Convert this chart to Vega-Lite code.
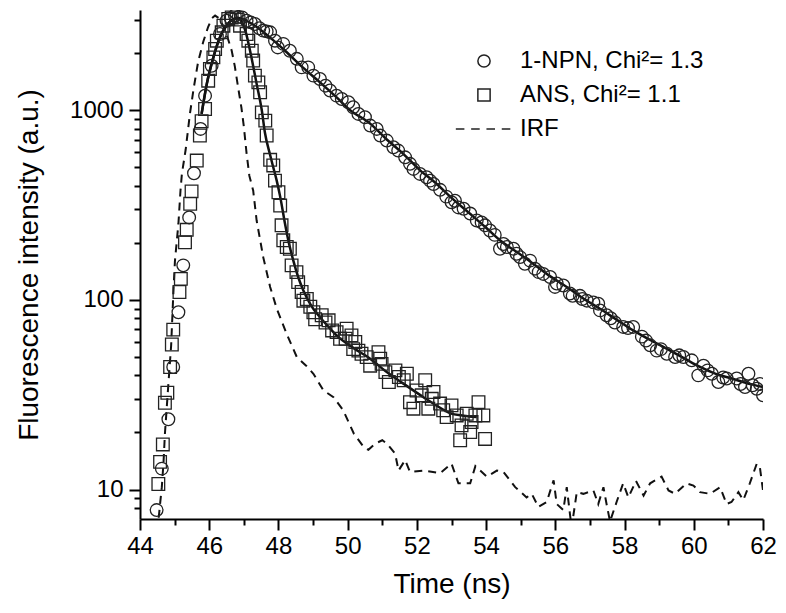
{
  "$schema": "https://vega.github.io/schema/vega-lite/v6.json",
  "autosize": {"type": "none"},
  "width": 623,
  "height": 509,
  "padding": {"left": 140, "top": 10, "right": 23, "bottom": 94},
  "background": "white",
  "config": {"view": {"stroke": null}, "font": "Liberation Sans"},
  "datasets": {
    "irf": [
      {"t": 44.5, "v": 6.0}, {"t": 44.58, "v": 8.4}, {"t": 44.63, "v": 10.3}, {"t": 44.68, "v": 14}, {"t": 44.72, "v": 19.7},
      {"t": 44.82, "v": 36}, {"t": 44.9, "v": 57.6}, {"t": 44.96, "v": 105}, {"t": 45.01, "v": 161}, {"t": 45.06, "v": 201},
      {"t": 45.11, "v": 252}, {"t": 45.17, "v": 377}, {"t": 45.21, "v": 461}, {"t": 45.32, "v": 620}, {"t": 45.44, "v": 950},
      {"t": 45.55, "v": 1300}, {"t": 45.68, "v": 1800}, {"t": 45.83, "v": 2300}, {"t": 45.97, "v": 2750}, {"t": 46.08, "v": 3050},
      {"t": 46.17, "v": 3150}, {"t": 46.28, "v": 3050}, {"t": 46.42, "v": 2750}, {"t": 46.55, "v": 2350}, {"t": 46.65, "v": 2056},
      {"t": 46.74, "v": 1700}, {"t": 46.84, "v": 1300}, {"t": 46.93, "v": 1030}, {"t": 47.0, "v": 820}, {"t": 47.08, "v": 590},
      {"t": 47.16, "v": 450}, {"t": 47.27, "v": 377}, {"t": 47.37, "v": 262}, {"t": 47.56, "v": 168}, {"t": 47.76, "v": 117},
      {"t": 47.95, "v": 90}, {"t": 48.24, "v": 66}, {"t": 48.53, "v": 50}, {"t": 48.8, "v": 45}, {"t": 49.01, "v": 40.8},
      {"t": 49.3, "v": 33.3}, {"t": 49.59, "v": 30.7}, {"t": 49.87, "v": 26.2}, {"t": 50.18, "v": 19.7}, {"t": 50.47, "v": 16.7},
      {"t": 50.6, "v": 16.2}, {"t": 50.8, "v": 17.5}, {"t": 51.0, "v": 18.2}, {"t": 51.13, "v": 17.5}, {"t": 51.37, "v": 15.5},
      {"t": 51.47, "v": 12.6}, {"t": 51.66, "v": 14.3}, {"t": 51.8, "v": 12.4}, {"t": 52.19, "v": 12.6}, {"t": 52.67, "v": 12.2},
      {"t": 53.0, "v": 13.7}, {"t": 53.2, "v": 10.8}, {"t": 53.54, "v": 10.8}, {"t": 53.69, "v": 13.3}, {"t": 54.02, "v": 11.7},
      {"t": 54.31, "v": 12.6}, {"t": 54.5, "v": 12.4}, {"t": 54.84, "v": 10.3}, {"t": 55.17, "v": 9.1}, {"t": 55.32, "v": 9.5},
      {"t": 55.51, "v": 8.1}, {"t": 55.75, "v": 8.6}, {"t": 55.95, "v": 11.2}, {"t": 56.04, "v": 8.4}, {"t": 56.23, "v": 7.8},
      {"t": 56.33, "v": 10.3}, {"t": 56.42, "v": 7.5}, {"t": 56.47, "v": 6.3}, {"t": 56.62, "v": 9.7}, {"t": 56.81, "v": 9.5},
      {"t": 57.1, "v": 9.9}, {"t": 57.24, "v": 8.4}, {"t": 57.39, "v": 10.3}, {"t": 57.48, "v": 8.4}, {"t": 57.58, "v": 6.8},
      {"t": 57.77, "v": 8.6}, {"t": 57.96, "v": 10.8}, {"t": 58.11, "v": 9.1}, {"t": 58.33, "v": 11.1}, {"t": 58.55, "v": 9.3},
      {"t": 58.74, "v": 10.8}, {"t": 59.07, "v": 11.7}, {"t": 59.27, "v": 9.9}, {"t": 59.46, "v": 9.5}, {"t": 59.79, "v": 10.8},
      {"t": 59.99, "v": 10.5}, {"t": 60.18, "v": 9.7}, {"t": 60.47, "v": 9.5}, {"t": 60.76, "v": 10.3}, {"t": 60.95, "v": 8.4},
      {"t": 61.09, "v": 8.6}, {"t": 61.29, "v": 9.7}, {"t": 61.43, "v": 8.8}, {"t": 61.62, "v": 10.8}, {"t": 61.82, "v": 13.7},
      {"t": 61.91, "v": 13.1}, {"t": 62.0, "v": 9.9}
    ],
    "fit": [
      {"s": "NPN", "t": 45.78, "v": 955}, {"s": "NPN", "t": 45.93, "v": 1375}, {"s": "NPN", "t": 46.12, "v": 1897}, {"s": "NPN", "t": 46.31, "v": 2420},
      {"s": "NPN", "t": 46.5, "v": 2790}, {"s": "NPN", "t": 46.7, "v": 3020}, {"s": "NPN", "t": 46.85, "v": 3060}, {"s": "NPN", "t": 47.0, "v": 3000},
      {"s": "NPN", "t": 47.3, "v": 2800}, {"s": "NPN", "t": 47.76, "v": 2410}, {"s": "NPN", "t": 48.2, "v": 2050}, {"s": "NPN", "t": 48.71, "v": 1675},
      {"s": "NPN", "t": 49.2, "v": 1400}, {"s": "NPN", "t": 49.69, "v": 1163}, {"s": "NPN", "t": 50.07, "v": 1000}, {"s": "NPN", "t": 50.65, "v": 849},
      {"s": "NPN", "t": 51.13, "v": 700}, {"s": "NPN", "t": 51.6, "v": 590}, {"s": "NPN", "t": 52.1, "v": 480}, {"s": "NPN", "t": 52.5, "v": 419},
      {"s": "NPN", "t": 53.0, "v": 345}, {"s": "NPN", "t": 53.5, "v": 288}, {"s": "NPN", "t": 54.0, "v": 240}, {"s": "NPN", "t": 54.4, "v": 206},
      {"s": "NPN", "t": 54.9, "v": 178}, {"s": "NPN", "t": 55.3, "v": 158}, {"s": "NPN", "t": 55.8, "v": 135}, {"s": "NPN", "t": 56.33, "v": 117},
      {"s": "NPN", "t": 56.8, "v": 102}, {"s": "NPN", "t": 57.3, "v": 89.5}, {"s": "NPN", "t": 57.8, "v": 78}, {"s": "NPN", "t": 58.25, "v": 69},
      {"s": "NPN", "t": 58.7, "v": 62}, {"s": "NPN", "t": 59.2, "v": 55.5}, {"s": "NPN", "t": 59.7, "v": 49.5}, {"s": "NPN", "t": 60.18, "v": 44.3},
      {"s": "NPN", "t": 60.6, "v": 41}, {"s": "NPN", "t": 61.1, "v": 38.5}, {"s": "NPN", "t": 61.5, "v": 36.5}, {"s": "NPN", "t": 62.0, "v": 34.7},
      {"s": "ANS", "t": 45.78, "v": 955}, {"s": "ANS", "t": 45.93, "v": 1375}, {"s": "ANS", "t": 46.12, "v": 1897}, {"s": "ANS", "t": 46.31, "v": 2420},
      {"s": "ANS", "t": 46.5, "v": 2790}, {"s": "ANS", "t": 46.7, "v": 3020}, {"s": "ANS", "t": 46.82, "v": 3060}, {"s": "ANS", "t": 46.95, "v": 2900},
      {"s": "ANS", "t": 47.05, "v": 2600}, {"s": "ANS", "t": 47.18, "v": 2056}, {"s": "ANS", "t": 47.37, "v": 1375}, {"s": "ANS", "t": 47.52, "v": 995},
      {"s": "ANS", "t": 47.61, "v": 760}, {"s": "ANS", "t": 47.76, "v": 580}, {"s": "ANS", "t": 47.85, "v": 500}, {"s": "ANS", "t": 47.95, "v": 425},
      {"s": "ANS", "t": 48.05, "v": 350}, {"s": "ANS", "t": 48.19, "v": 252}, {"s": "ANS", "t": 48.3, "v": 200}, {"s": "ANS", "t": 48.43, "v": 161},
      {"s": "ANS", "t": 48.57, "v": 132}, {"s": "ANS", "t": 48.72, "v": 112}, {"s": "ANS", "t": 48.95, "v": 93}, {"s": "ANS", "t": 49.2, "v": 81},
      {"s": "ANS", "t": 49.45, "v": 72}, {"s": "ANS", "t": 49.68, "v": 65}, {"s": "ANS", "t": 50.15, "v": 56}, {"s": "ANS", "t": 50.65, "v": 49},
      {"s": "ANS", "t": 51.1, "v": 42}, {"s": "ANS", "t": 51.61, "v": 36.2}, {"s": "ANS", "t": 52.19, "v": 30.7}, {"s": "ANS", "t": 52.6, "v": 27.5},
      {"s": "ANS", "t": 52.96, "v": 25.3}, {"s": "ANS", "t": 53.35, "v": 24.5}, {"s": "ANS", "t": 53.73, "v": 24.1}
    ],
    "pts": [
      {"s": "NPN", "t": 44.48, "v": 7.8}, {"s": "NPN", "t": 44.63, "v": 12.9}, {"s": "NPN", "t": 44.82, "v": 23.5}, {"s": "NPN", "t": 44.96, "v": 44.3},
      {"s": "NPN", "t": 45.11, "v": 86}, {"s": "NPN", "t": 45.25, "v": 152}, {"s": "NPN", "t": 45.42, "v": 272}, {"s": "NPN", "t": 45.56, "v": 465},
      {"s": "NPN", "t": 45.75, "v": 796}, {"s": "NPN", "t": 45.88, "v": 1192}, {"s": "NPN", "t": 46.07, "v": 1714}, {"s": "NPN", "t": 46.31, "v": 2518},
      {"s": "NPN", "t": 46.5, "v": 2958}, {"s": "NPN", "t": 46.62, "v": 3050}, {"s": "NPN", "t": 46.74, "v": 3150}, {"s": "NPN", "t": 46.85, "v": 3100},
      {"s": "NPN", "t": 46.95, "v": 3080}, {"s": "NPN", "t": 47.08, "v": 2958}, {"s": "NPN", "t": 47.2, "v": 2900}, {"s": "NPN", "t": 47.32, "v": 2845},
      {"s": "NPN", "t": 47.45, "v": 2700}, {"s": "NPN", "t": 47.56, "v": 2624}, {"s": "NPN", "t": 47.66, "v": 2600}, {"s": "NPN", "t": 47.76, "v": 2570},
      {"s": "NPN", "t": 47.9, "v": 2322}, {"s": "NPN", "t": 47.98, "v": 2140}, {"s": "NPN", "t": 48.14, "v": 2234}, {"s": "NPN", "t": 48.33, "v": 2056},
      {"s": "NPN", "t": 48.53, "v": 1863}, {"s": "NPN", "t": 48.67, "v": 1680}, {"s": "NPN", "t": 48.86, "v": 1680}, {"s": "NPN", "t": 49.01, "v": 1520},
      {"s": "NPN", "t": 49.2, "v": 1459}, {"s": "NPN", "t": 49.36, "v": 1345}, {"s": "NPN", "t": 49.49, "v": 1268}, {"s": "NPN", "t": 49.68, "v": 1192},
      {"s": "NPN", "t": 49.83, "v": 1145}, {"s": "NPN", "t": 50.02, "v": 1100}, {"s": "NPN", "t": 50.16, "v": 1035}, {"s": "NPN", "t": 50.31, "v": 955},
      {"s": "NPN", "t": 50.5, "v": 917}, {"s": "NPN", "t": 50.65, "v": 829}, {"s": "NPN", "t": 50.84, "v": 796}, {"s": "NPN", "t": 50.94, "v": 734},
      {"s": "NPN", "t": 51.13, "v": 691}, {"s": "NPN", "t": 51.32, "v": 637}, {"s": "NPN", "t": 51.46, "v": 612}, {"s": "NPN", "t": 51.66, "v": 564},
      {"s": "NPN", "t": 51.8, "v": 521}, {"s": "NPN", "t": 51.9, "v": 490}, {"s": "NPN", "t": 52.09, "v": 461}, {"s": "NPN", "t": 52.28, "v": 443},
      {"s": "NPN", "t": 52.38, "v": 425}, {"s": "NPN", "t": 52.48, "v": 408}, {"s": "NPN", "t": 52.67, "v": 380}, {"s": "NPN", "t": 52.85, "v": 350},
      {"s": "NPN", "t": 53.0, "v": 327}, {"s": "NPN", "t": 53.1, "v": 333}, {"s": "NPN", "t": 53.2, "v": 307}, {"s": "NPN", "t": 53.35, "v": 302},
      {"s": "NPN", "t": 53.54, "v": 285}, {"s": "NPN", "t": 53.73, "v": 262}, {"s": "NPN", "t": 53.87, "v": 256}, {"s": "NPN", "t": 53.97, "v": 247},
      {"s": "NPN", "t": 54.11, "v": 232}, {"s": "NPN", "t": 54.25, "v": 220}, {"s": "NPN", "t": 54.4, "v": 186}, {"s": "NPN", "t": 54.5, "v": 197},
      {"s": "NPN", "t": 54.6, "v": 190}, {"s": "NPN", "t": 54.79, "v": 186}, {"s": "NPN", "t": 54.88, "v": 175}, {"s": "NPN", "t": 54.98, "v": 168},
      {"s": "NPN", "t": 55.12, "v": 155}, {"s": "NPN", "t": 55.27, "v": 161}, {"s": "NPN", "t": 55.41, "v": 146}, {"s": "NPN", "t": 55.52, "v": 140},
      {"s": "NPN", "t": 55.65, "v": 137}, {"s": "NPN", "t": 55.85, "v": 132}, {"s": "NPN", "t": 55.99, "v": 117}, {"s": "NPN", "t": 56.04, "v": 122},
      {"s": "NPN", "t": 56.23, "v": 119}, {"s": "NPN", "t": 56.42, "v": 108}, {"s": "NPN", "t": 56.5, "v": 105}, {"s": "NPN", "t": 56.71, "v": 105},
      {"s": "NPN", "t": 56.78, "v": 101}, {"s": "NPN", "t": 56.91, "v": 99}, {"s": "NPN", "t": 57.1, "v": 97}, {"s": "NPN", "t": 57.24, "v": 95.5},
      {"s": "NPN", "t": 57.29, "v": 88}, {"s": "NPN", "t": 57.48, "v": 83}, {"s": "NPN", "t": 57.6, "v": 80}, {"s": "NPN", "t": 57.72, "v": 76},
      {"s": "NPN", "t": 57.96, "v": 72}, {"s": "NPN", "t": 58.1, "v": 71}, {"s": "NPN", "t": 58.25, "v": 72}, {"s": "NPN", "t": 58.5, "v": 64},
      {"s": "NPN", "t": 58.62, "v": 61}, {"s": "NPN", "t": 58.74, "v": 57.6}, {"s": "NPN", "t": 58.93, "v": 54}, {"s": "NPN", "t": 59.05, "v": 55},
      {"s": "NPN", "t": 59.22, "v": 52}, {"s": "NPN", "t": 59.46, "v": 50}, {"s": "NPN", "t": 59.58, "v": 51}, {"s": "NPN", "t": 59.7, "v": 50},
      {"s": "NPN", "t": 59.94, "v": 48}, {"s": "NPN", "t": 60.13, "v": 40}, {"s": "NPN", "t": 60.28, "v": 45}, {"s": "NPN", "t": 60.4, "v": 42.5},
      {"s": "NPN", "t": 60.52, "v": 40.8}, {"s": "NPN", "t": 60.71, "v": 36.9}, {"s": "NPN", "t": 60.85, "v": 39}, {"s": "NPN", "t": 60.95, "v": 38.5},
      {"s": "NPN", "t": 61.24, "v": 38.5}, {"s": "NPN", "t": 61.35, "v": 36}, {"s": "NPN", "t": 61.48, "v": 34.7}, {"s": "NPN", "t": 61.58, "v": 40.8},
      {"s": "NPN", "t": 61.7, "v": 35.5}, {"s": "NPN", "t": 61.82, "v": 34}, {"s": "NPN", "t": 61.91, "v": 36}, {"s": "NPN", "t": 62.0, "v": 31.4},
      {"s": "ANS", "t": 44.53, "v": 10.7}, {"s": "ANS", "t": 44.58, "v": 14.0}, {"s": "ANS", "t": 44.66, "v": 17.3}, {"s": "ANS", "t": 44.72, "v": 28.7},
      {"s": "ANS", "t": 44.79, "v": 32.4}, {"s": "ANS", "t": 44.87, "v": 44.3}, {"s": "ANS", "t": 44.92, "v": 58.2}, {"s": "ANS", "t": 44.96, "v": 69.7},
      {"s": "ANS", "t": 45.14, "v": 110}, {"s": "ANS", "t": 45.18, "v": 129}, {"s": "ANS", "t": 45.3, "v": 201}, {"s": "ANS", "t": 45.35, "v": 234},
      {"s": "ANS", "t": 45.45, "v": 321}, {"s": "ANS", "t": 45.49, "v": 373}, {"s": "ANS", "t": 45.64, "v": 542}, {"s": "ANS", "t": 45.73, "v": 735},
      {"s": "ANS", "t": 45.78, "v": 874}, {"s": "ANS", "t": 45.88, "v": 1014}, {"s": "ANS", "t": 45.97, "v": 1429}, {"s": "ANS", "t": 46.02, "v": 1648},
      {"s": "ANS", "t": 46.12, "v": 1897}, {"s": "ANS", "t": 46.17, "v": 2100}, {"s": "ANS", "t": 46.22, "v": 2322}, {"s": "ANS", "t": 46.36, "v": 2570},
      {"s": "ANS", "t": 46.41, "v": 2786}, {"s": "ANS", "t": 46.55, "v": 3020}, {"s": "ANS", "t": 46.65, "v": 3080}, {"s": "ANS", "t": 46.79, "v": 3000},
      {"s": "ANS", "t": 46.89, "v": 2786}, {"s": "ANS", "t": 47.08, "v": 2518}, {"s": "ANS", "t": 47.13, "v": 2322}, {"s": "ANS", "t": 47.23, "v": 2056},
      {"s": "ANS", "t": 47.27, "v": 1824}, {"s": "ANS", "t": 47.32, "v": 1520}, {"s": "ANS", "t": 47.42, "v": 1400}, {"s": "ANS", "t": 47.47, "v": 1242},
      {"s": "ANS", "t": 47.52, "v": 973}, {"s": "ANS", "t": 47.62, "v": 880}, {"s": "ANS", "t": 47.66, "v": 735}, {"s": "ANS", "t": 47.76, "v": 547},
      {"s": "ANS", "t": 47.85, "v": 511}, {"s": "ANS", "t": 47.9, "v": 425}, {"s": "ANS", "t": 48.0, "v": 369}, {"s": "ANS", "t": 48.05, "v": 314},
      {"s": "ANS", "t": 48.09, "v": 247}, {"s": "ANS", "t": 48.14, "v": 206}, {"s": "ANS", "t": 48.24, "v": 190}, {"s": "ANS", "t": 48.33, "v": 186},
      {"s": "ANS", "t": 48.38, "v": 152}, {"s": "ANS", "t": 48.52, "v": 140}, {"s": "ANS", "t": 48.57, "v": 124}, {"s": "ANS", "t": 48.67, "v": 110},
      {"s": "ANS", "t": 48.72, "v": 99}, {"s": "ANS", "t": 48.82, "v": 101}, {"s": "ANS", "t": 48.92, "v": 92}, {"s": "ANS", "t": 49.01, "v": 86},
      {"s": "ANS", "t": 49.06, "v": 79}, {"s": "ANS", "t": 49.25, "v": 83}, {"s": "ANS", "t": 49.36, "v": 76}, {"s": "ANS", "t": 49.45, "v": 78},
      {"s": "ANS", "t": 49.55, "v": 69}, {"s": "ANS", "t": 49.68, "v": 67.6}, {"s": "ANS", "t": 49.78, "v": 62.4}, {"s": "ANS", "t": 49.94, "v": 62.4},
      {"s": "ANS", "t": 49.97, "v": 70.5}, {"s": "ANS", "t": 50.11, "v": 65}, {"s": "ANS", "t": 50.16, "v": 55}, {"s": "ANS", "t": 50.22, "v": 60},
      {"s": "ANS", "t": 50.31, "v": 54}, {"s": "ANS", "t": 50.4, "v": 52}, {"s": "ANS", "t": 50.55, "v": 49.9}, {"s": "ANS", "t": 50.65, "v": 45},
      {"s": "ANS", "t": 50.89, "v": 53}, {"s": "ANS", "t": 50.94, "v": 49}, {"s": "ANS", "t": 50.98, "v": 46}, {"s": "ANS", "t": 51.09, "v": 41.6},
      {"s": "ANS", "t": 51.19, "v": 36.9}, {"s": "ANS", "t": 51.38, "v": 42.5}, {"s": "ANS", "t": 51.48, "v": 39.2}, {"s": "ANS", "t": 51.62, "v": 37.7},
      {"s": "ANS", "t": 51.71, "v": 40.8}, {"s": "ANS", "t": 51.8, "v": 28.9}, {"s": "ANS", "t": 51.9, "v": 26.7}, {"s": "ANS", "t": 51.99, "v": 33.3},
      {"s": "ANS", "t": 52.14, "v": 31.4}, {"s": "ANS", "t": 52.24, "v": 37.7}, {"s": "ANS", "t": 52.33, "v": 26.7}, {"s": "ANS", "t": 52.43, "v": 30.1},
      {"s": "ANS", "t": 52.48, "v": 32.7}, {"s": "ANS", "t": 52.67, "v": 28.4}, {"s": "ANS", "t": 52.76, "v": 26.2}, {"s": "ANS", "t": 52.86, "v": 24.1},
      {"s": "ANS", "t": 53.0, "v": 27.8}, {"s": "ANS", "t": 53.15, "v": 24.6}, {"s": "ANS", "t": 53.25, "v": 18.2}, {"s": "ANS", "t": 53.29, "v": 21.8},
      {"s": "ANS", "t": 53.44, "v": 25.1}, {"s": "ANS", "t": 53.54, "v": 20.1}, {"s": "ANS", "t": 53.58, "v": 22.7}, {"s": "ANS", "t": 53.69, "v": 24.6},
      {"s": "ANS", "t": 53.78, "v": 28.9}, {"s": "ANS", "t": 53.92, "v": 24.6}, {"s": "ANS", "t": 53.97, "v": 18.5}
    ]
  },
  "encoding": {
    "x": {
      "field": "t", "type": "quantitative",
      "scale": {"domain": [44, 62], "nice": false, "zero": false},
      "axis": {
        "title": "Time (ns)",
        "values": [44, 45, 46, 47, 48, 49, 50, 51, 52, 53, 54, 55, 56, 57, 58, 59, 60, 61, 62],
        "format": "d",
        "labelExpr": "datum.value % 2 == 0 ? datum.label : ''",
        "tickSize": {"condition": {"test": "datum.value % 2 == 0", "value": 11}, "value": 6},
        "grid": false, "labelFlush": false, "labelOverlap": false,
        "labelFont": "Liberation Sans", "labelFontSize": 24, "labelColor": "#000", "labelPadding": 4,
        "titleFont": "Liberation Sans", "titleFontSize": 28, "titleFontWeight": "normal", "titleColor": "#000", "titlePadding": 12,
        "domainColor": "#000", "domainWidth": 2, "tickColor": "#000", "tickWidth": 2
      }
    },
    "y": {
      "field": "v", "type": "quantitative",
      "scale": {"type": "log", "domain": [7, 3370], "nice": false, "zero": false},
      "axis": {
        "title": "Fluorescence intensity (a.u.)",
        "values": [8, 9, 10, 20, 30, 40, 50, 60, 70, 80, 90, 100, 200, 300, 400, 500, 600, 700, 800, 900, 1000, 2000, 3000],
        "format": "d",
        "labelExpr": "(datum.value == 10 || datum.value == 100 || datum.value == 1000) ? datum.label : ''",
        "tickSize": {"condition": {"test": "datum.value == 10 || datum.value == 100 || datum.value == 1000", "value": 11}, "value": 6},
        "grid": false, "labelFlush": false, "labelOverlap": false,
        "labelFont": "Liberation Sans", "labelFontSize": 24, "labelColor": "#000", "labelPadding": 6,
        "titleFont": "Liberation Sans", "titleFontSize": 28, "titleFontWeight": "normal", "titleColor": "#000", "titlePadding": 26,
        "domainColor": "#000", "domainWidth": 2, "tickColor": "#000", "tickWidth": 2
      }
    }
  },
  "layer": [
    {
      "data": {"name": "irf"},
      "mark": {"type": "line", "color": "#111", "strokeWidth": 2, "strokeDash": [8, 6], "clip": true},
      "encoding": {}
    },
    {
      "data": {"name": "fit"},
      "mark": {"type": "line", "color": "#111", "strokeWidth": 2.5, "clip": true, "interpolate": "monotone"},
      "encoding": {"detail": {"field": "s", "type": "nominal"}}
    },
    {
      "data": {"name": "pts"},
      "mark": {"type": "point", "filled": false, "color": "#222", "strokeWidth": 1.3, "opacity": 1, "size": 160, "clip": true},
      "encoding": {
        "shape": {
          "field": "s", "type": "nominal",
          "scale": {"domain": ["NPN", "ANS", "IRF"], "range": ["circle", "square", "M-4.6,0L-3.2,0M-2.1,0L-0.7,0M0.4,0L1.8,0M2.9,0L4.3,0"]},
          "legend": {
            "orient": "none", "legendX": 332, "legendY": 39, "title": null, "padding": 0,
            "labelFont": "Liberation Sans", "labelFontSize": 24, "labelColor": "#000", "labelOffset": 24, "labelLimit": 400, "rowPadding": 10,
            "symbolSize": 150, "symbolStrokeColor": "#222", "symbolStrokeWidth": 1.5,
            "labelExpr": "datum.value == 'NPN' ? '1-NPN, Chi²= 1.3' : datum.value == 'ANS' ? '\u2005ANS, Chi²= 1.1' : '\u2005IRF'",
            "encode": {"symbols": {"update": {"strokeWidth": {"signal": "datum.value == 'IRF' ? 2.2 : 1.5"}}}}
          }
        }
      }
    }
  ]
}
